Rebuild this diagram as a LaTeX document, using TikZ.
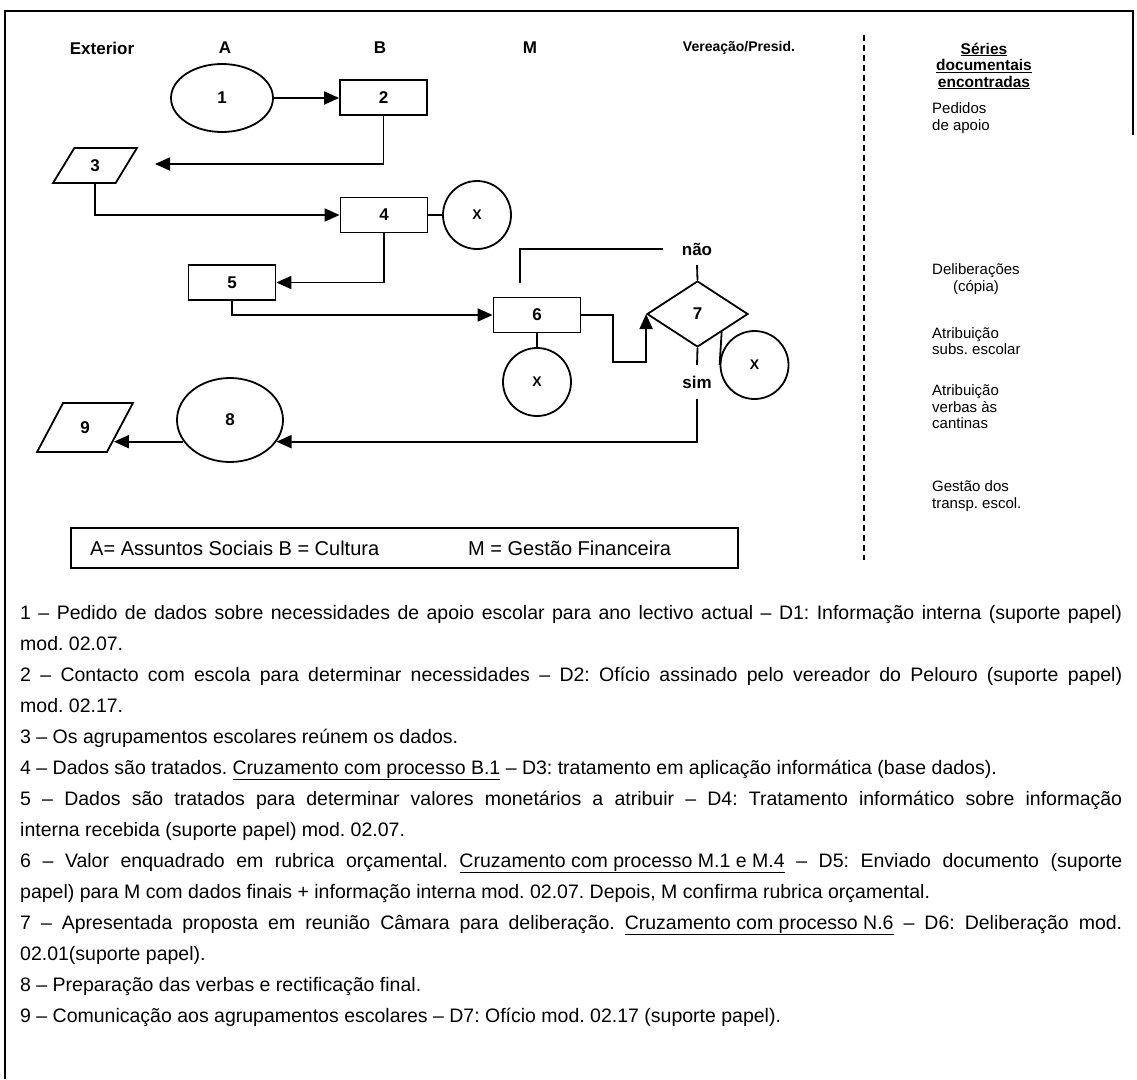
\documentclass[tikz,border=0pt]{standalone}
\usepackage{fontspec}
\setmainfont{Liberation Sans}
\usetikzlibrary{shapes.geometric,arrows.meta,calc}
\newcommand\jl[1]{\makebox[1102pt][s]{#1}}
\frenchspacing
\begin{document}
\begin{tikzpicture}[x=1pt,y=-1pt,
  ln/.style={line width=1.8pt},
  arr/.style={line width=1.8pt,-{Triangle[length=15pt,width=13pt]}},
  shp/.style={draw,line width=1.8pt,inner sep=0pt,font=\fontsize{17}{20}\selectfont\bfseries},
  boxn/.style={shp,rectangle,minimum width=87,minimum height=35},
  ell/.style={shp,ellipse},
  xc/.style={shp,circle,minimum size=68,font=\fontsize{14}{16}\selectfont\bfseries},
  par/.style={shp,trapezium,trapezium stretches=true},
  hdr/.style={font=\fontsize{17}{20}\selectfont\bfseries,inner sep=0pt},
  lbl/.style={font=\fontsize{17}{20}\selectfont\bfseries,inner sep=0pt},
  col/.style={font=\fontsize{15}{16.5}\selectfont,align=left,anchor=west,inner sep=0pt},
  lg/.style={font=\fontsize{20}{23}\selectfont,anchor=west,inner sep=0pt},
  body/.style={font=\fontsize{19.5}{22}\selectfont,anchor=base west,inner sep=0pt},
]
\useasboundingbox (0,0) rectangle (1137,1079);
% frame
\draw[line width=1.8pt] (5,1079) -- (5,11) -- (1133,11) -- (1133,135);
% headers
\node[hdr] (hExt) at (102,48) {Exterior};
\node[hdr] (hA) at (225,48) {A};
\node[hdr] (hB) at (380,48) {B};
\node[hdr] (hM) at (530,48) {M};
\node[hdr,font=\fontsize{14}{17}\selectfont\bfseries] (hV) at (739,48) {Vereação/Presid.};
% divider
\draw[line width=2pt,dash pattern=on 6pt off 4pt] (864,35) -- (864,560);
% right column
\node[font=\fontsize{15.5}{16.5}\selectfont\bfseries,align=center,inner sep=0pt] (ser) at (984,66) {\underline{Séries}\\\underline{documentais}\\\underline{encontradas}};
\node[col] (s1) at (932,118) {Pedidos\\de apoio};
\node[col,align=center] (s2) at (932,279) {Deliberações\\(cópia)};
\node[col] (s3) at (932,341) {Atribuição\\subs. escolar};
\node[col] (s4) at (932,407) {Atribuição\\verbas às\\cantinas};
\node[col] (s5) at (932,496) {Gestão dos\\transp. escol.};
% flow nodes
\node[ell,minimum width=102,minimum height=68] (n1) at (222,98) {1};
\node[boxn] (n2) at (383.5,97.5) {2};
\node[par,trapezium left angle=68,trapezium right angle=112,minimum width=84,minimum height=35] (n3) at (95,165.5) {3};
\node[boxn] (n4) at (384,215) {4};
\node[xc] (x4) at (477,215) {X};
\node[boxn] (n5) at (232,282.5) {5};
\node[boxn] (n6) at (537,315) {6};
\node[shp,diamond,minimum width=101,minimum height=66,aspect=1.53] (n7) at (697.5,314) {7};
\node[xc] (x6) at (537,382) {X};
\node[xc] (x7) at (754.5,365) {X};
\node[ell,minimum width=106,minimum height=84] (n8) at (230,420) {8};
\node[par,trapezium left angle=65,trapezium right angle=115,minimum width=96,minimum height=49] (n9) at (85,427.5) {9};
\node[lbl,minimum height=32,inner xsep=19pt] (nao) at (697,249) {não};
\node[lbl,minimum height=34] (sim) at (697,382) {sim};
% connectors
\draw[arr] (n1.east) -- (n1.east -| n2.west);
\coordinate (c3) at (155,164);
\draw[arr] (n2.south) |- (c3);
\draw[arr] (n3.south) |- (n4.west);
\draw[ln] (n4.east) -- (x4.west);
\draw[arr] (n4.south) |- (n5.east);
\coordinate (k) at (520,282.5);
\draw[ln] (nao.west) -| (k);
\draw[arr] (n5.south) |- (n6.west);
\draw[ln] (n6.south) -- (x6.north);
\coordinate (c67) at (613,362);
\draw[arr] (n6.east) -| (c67) -| (n7.west);
\draw[ln] (n7.north) -- (nao.south);
\draw[ln] (n7.south) -- (sim.north);
\draw[ln] ($(n7.east)!0.53!(n7.south)$) -- (x7.west);
\draw[arr] (sim.south) |- (n8.-25);
\coordinate (e9) at ($(n9.top right corner)!0.76!(n9.bottom right corner)$);
\draw[arr] (n8.205) -- (n8.205 -| e9);
% legend
\node[draw,line width=1.8pt,minimum width=667,minimum height=40,inner sep=0pt] (leg) at (404.5,548) {};
\node[lg] (lg1) at (90,548) {A= Assuntos Sociais B = Cultura};
\node[lg] (lg2) at (468,548) {M = Gestão Financeira};
% body text
\node[body] (t1) at (20,619) {\jl{1 – Pedido de dados sobre necessidades de apoio escolar para ano lectivo actual – D1: Informação interna (suporte papel)}};
\node[body] (t2) at (20,650) {mod. 02.07.};
\node[body] (t3) at (20,681) {\jl{2 – Contacto com escola para determinar necessidades – D2: Ofício assinado pelo vereador do Pelouro (suporte papel)}};
\node[body] (t4) at (20,712) {mod. 02.17.};
\node[body] (t5) at (20,743) {3 – Os agrupamentos escolares reúnem os dados.};
\node[body] (t6) at (20,774) {4 – Dados são tratados. \underline{Cruzamento com processo B.1} – D3: tratamento em aplicação informática (base dados).};
\node[body] (t7) at (20,805) {\jl{5 – Dados são tratados para determinar valores monetários a atribuir – D4: Tratamento informático sobre informação}};
\node[body] (t8) at (20,836) {interna recebida (suporte papel) mod. 02.07.};
\node[body] (t9) at (20,867) {\jl{6 – Valor enquadrado em rubrica orçamental. \underline{Cruzamento com processo M.1 e M.4} – D5: Enviado documento (suporte}};
\node[body] (t10) at (20,898) {papel) para M com dados finais + informação interna mod. 02.07. Depois, M confirma rubrica orçamental.};
\node[body] (t11) at (20,929) {\jl{7 – Apresentada proposta em reunião Câmara para deliberação. \underline{Cruzamento com processo N.6} – D6: Deliberação mod.}};
\node[body] (t12) at (20,960) {02.01(suporte papel).};
\node[body] (t13) at (20,991) {8 – Preparação das verbas e rectificação final.};
\node[body] (t14) at (20,1022) {9 – Comunicação aos agrupamentos escolares – D7: Ofício mod. 02.17 (suporte papel).};
\end{tikzpicture}
\end{document}
